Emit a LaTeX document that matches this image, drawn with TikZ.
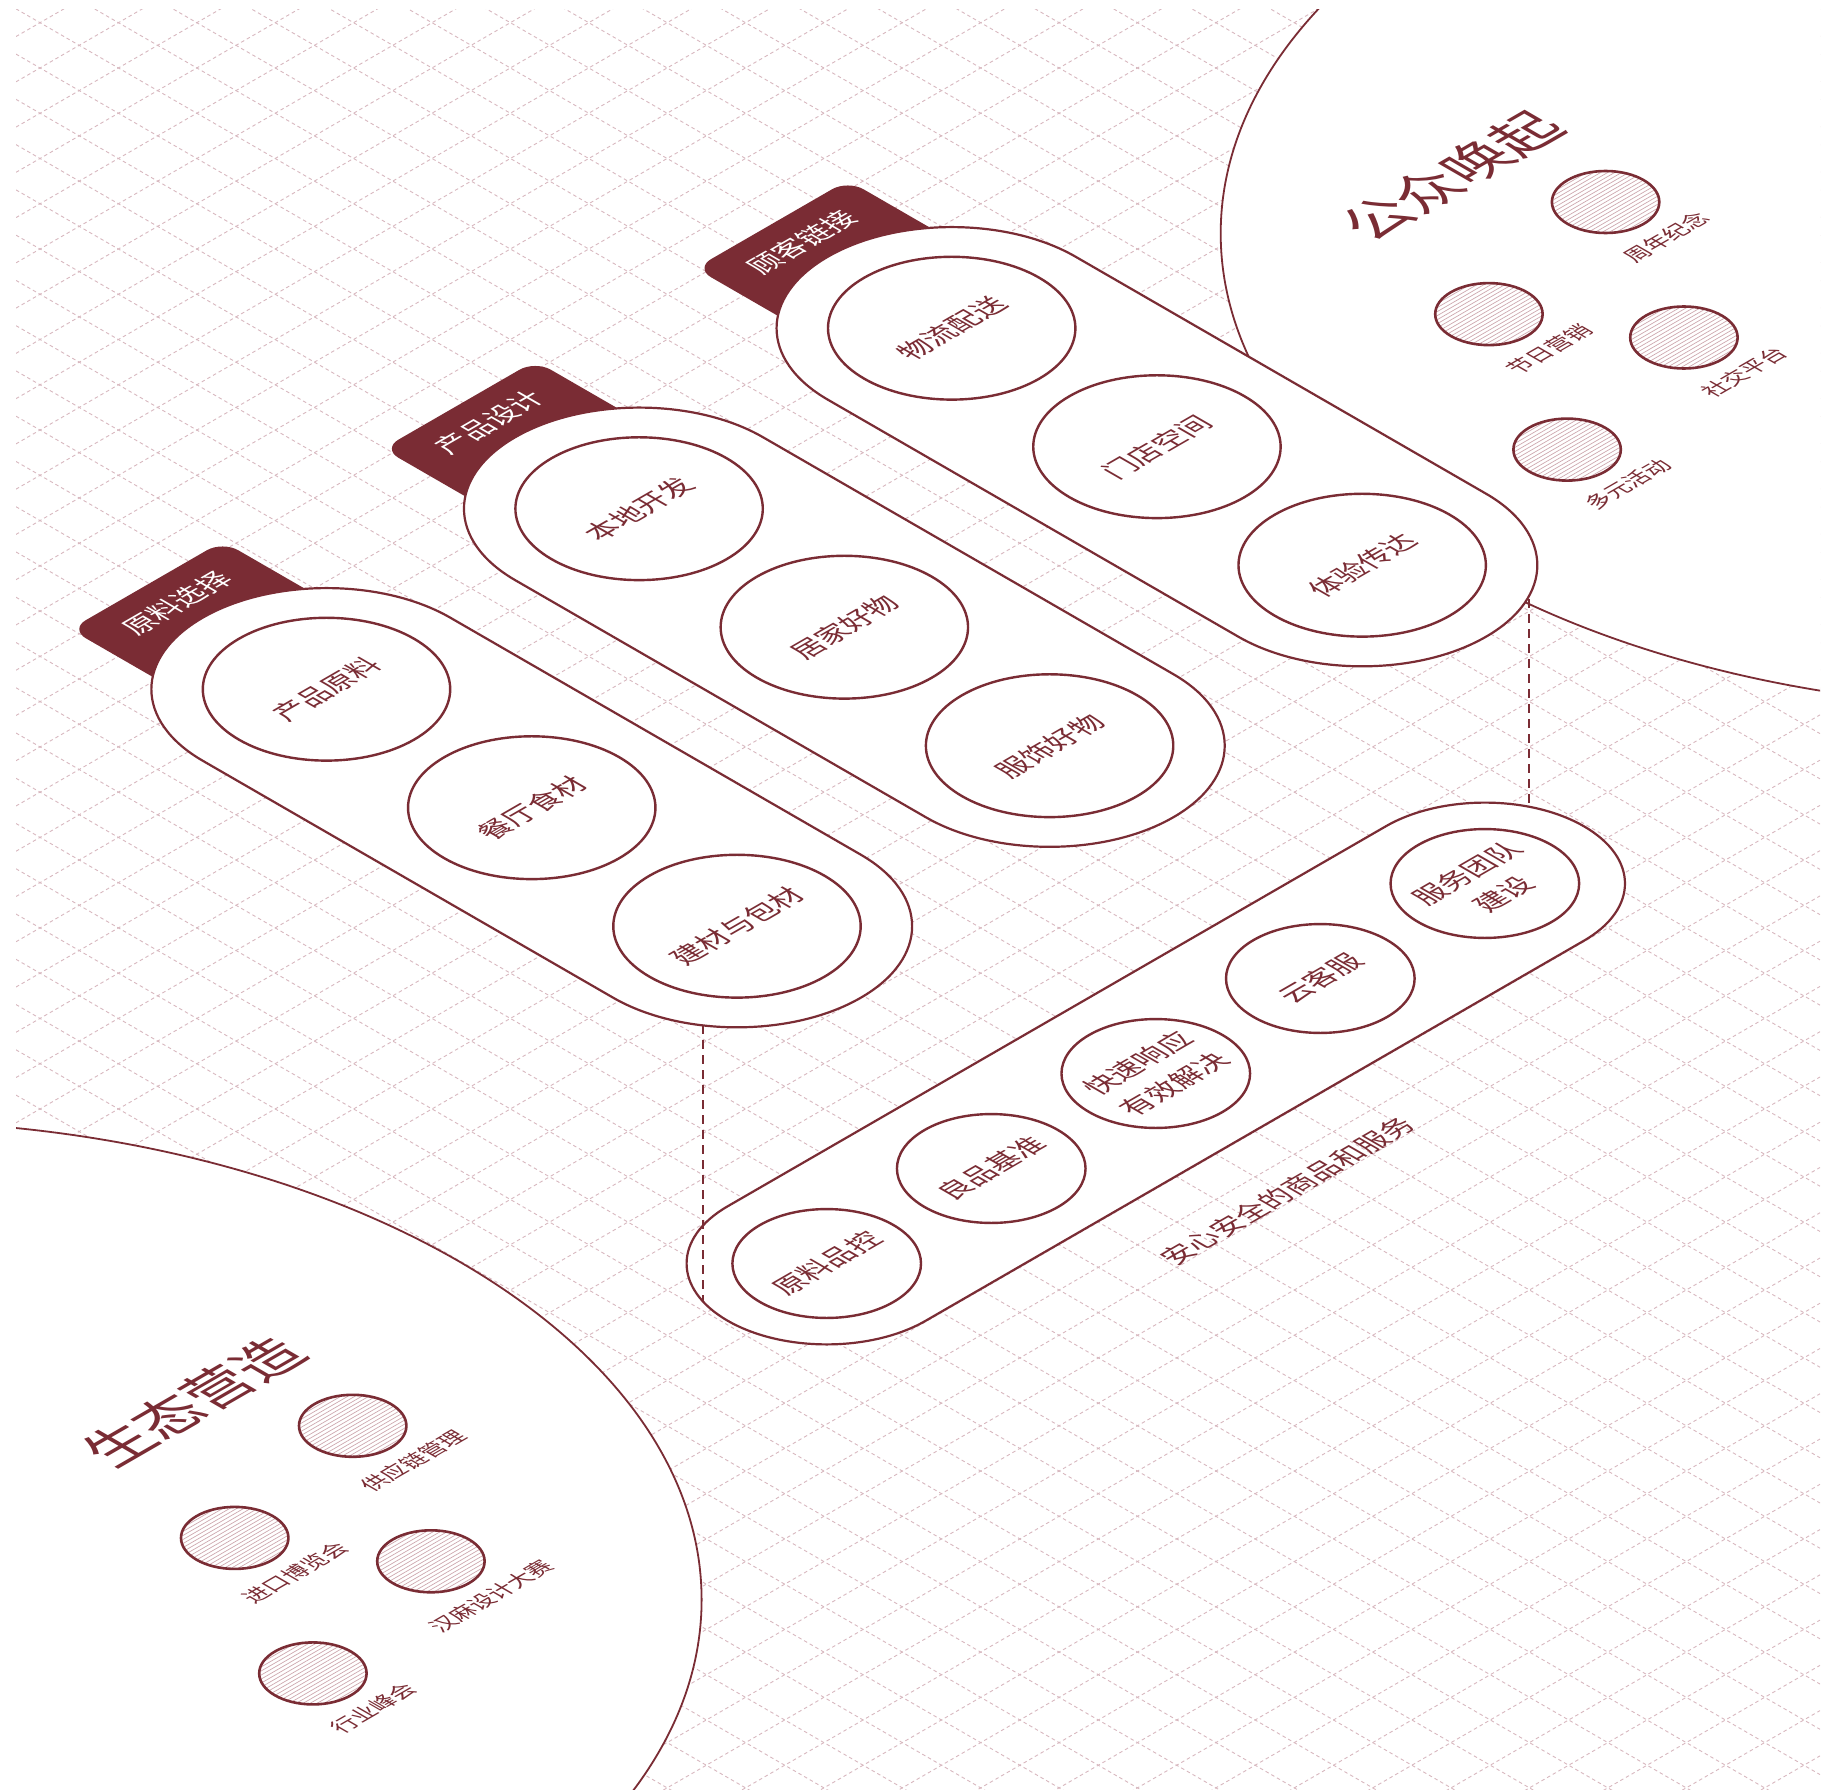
\documentclass[tikz,border=0pt]{standalone}
\usepackage{fontspec}
\newfontfamily\cjk{Noto Sans CJK SC}
\definecolor{mred}{RGB}{122,44,52}
\definecolor{gridc}{RGB}{216,184,191}
\definecolor{hatchc}{RGB}{206,168,175}
\newcommand{\mypill}[7]{%
\begin{scope}[shift={(#1,#2)}, iso]
\fill[mred, rounded corners=18pt] (-88,0) rectangle (88,208);
\draw[pillout] (143,0) arc[start angle=0,end angle=180,radius=143] -- (-143,-474) arc[start angle=180,end angle=360,radius=143] -- cycle;
\draw[innerc] (0,0) circle[radius=101];
\draw[innerc] (0,-237) circle[radius=101];
\draw[innerc] (0,-474) circle[radius=101];
\node[tagtext] (#7t) at (0,173) {#3};
\node[ptext] (#7a) at (0,0) {#4};
\node[ptext] (#7b) at (0,-237) {#5};
\node[ptext] (#7c) at (0,-474) {#6};
\end{scope}}
\newcommand{\hcirc}[4]{%
\begin{scope}
\clip (#1,#2) ellipse[x radius=53.7, y radius=31];
\foreach \k in {-18,...,18}{\draw[hatchl] ({#1+1.75*\k-60.6},{#2+3.031*\k+35}) -- ++(121.2,-70);}
\end{scope}
\draw[hatchout] (#1,#2) ellipse[x radius=53.7, y radius=31];
\begin{scope}[shift={(#1,#2)}, iso]
\node[stext] (#4) at (0,-70) {#3};
\end{scope}}
\begin{document}
\begin{tikzpicture}[x=1pt,y=-1pt,
  iso/.style={cm={0.866,0.5,-0.866,0.5,(0,0)},x=1pt,y=1pt},
  gridline/.style={gridc, line width=0.9pt, dash pattern=on 3.5pt off 3pt},
  bigout/.style={draw=mred, fill=white, line width=1.8pt},
  pillout/.style={draw=mred, fill=white, line width=2.2pt},
  innerc/.style={draw=mred, line width=2.4pt},
  hatchl/.style={hatchc, line width=0.7pt},
  hatchout/.style={draw=mred, line width=2.6pt},
  ptext/.style={text=mred, font=\cjk\fontsize{28}{42}\selectfont, transform shape, align=center, inner sep=0pt},
  tagtext/.style={text=white, font=\cjk\fontsize{28}{34}\selectfont, transform shape, inner sep=0pt},
  stext/.style={text=mred, font=\cjk\fontsize{22}{26}\selectfont, transform shape, inner sep=0pt},
  ttext/.style={text=mred, font=\cjk\fontsize{57}{64}\selectfont, transform shape, inner sep=0pt},
  conn/.style={draw=mred, line width=2.2pt, dash pattern=on 9pt off 6pt}
]
\useasboundingbox (0,0) rectangle (1831,1790);
\fill[white] (0,0) rectangle (1831,1790);
% grid and big areas
\begin{scope}
\clip (16,10) rectangle (1820,1790);
\foreach \k in {-23,...,40} \draw[gridline] (16,{22.7+45.26*\k-13.86}) -- (1820,{22.7+45.26*\k+1027.7});
\foreach \k in {0,...,62} \draw[gridline] (16,{22.7+45.26*\k+13.86}) -- (1820,{22.7+45.26*\k-1027.7});
\draw[bigout] (2044.7,233.5) ellipse [x radius=824, y radius=475];
\draw[bigout] (-128.4,1599.8) ellipse [x radius=830, y radius=479];
\end{scope}
% titles
\begin{scope}[shift={(1451.5,176)}, iso]
\node[ttext] (title1) at (0,0) {公众唤起};
\end{scope}
\begin{scope}[shift={(193,1402)}, iso]
\node[ttext] (title2) at (0,0) {生态营造};
\end{scope}
% hatched circles
\hcirc{1605.6}{202.0}{周年纪念}{h1}
\hcirc{1488.9}{314.1}{节日营销}{h2}
\hcirc{1683.9}{337.5}{社交平台}{h3}
\hcirc{1567.1}{449.6}{多元活动}{h4}
\hcirc{352.7}{1425.8}{供应链管理}{h5}
\hcirc{234.7}{1537.9}{进口博览会}{h6}
\hcirc{430.9}{1561.3}{汉麻设计大赛}{h7}
\hcirc{312.9}{1673.4}{行业峰会}{h8}
% pills
\mypill{326.5}{689.2}{原料选择}{产品原料}{餐厅食材}{建材与包材}{pa}
\mypill{639.1}{508.7}{产品设计}{本地开发}{居家好物}{服饰好物}{pb}
\mypill{951.7}{328.2}{顾客链接}{物流配送}{门店空间}{体验传达}{pc}
% service pill
\begin{scope}[shift={(826.7,1263.5)}, iso]
\draw[pillout] (0,114.4) arc[start angle=90,end angle=270,radius=114.4] -- (760,-114.4) arc[start angle=-90,end angle=90,radius=114.4] -- cycle;
\foreach \i in {0,1,2,3,4} \draw[innerc] ({190*\i},0) circle[radius=77];
\node[ptext] (s1) at (0,0) {原料品控};
\node[ptext] (s2) at (190,0) {良品基准};
\node[ptext] (s3) at (380,0) {快速响应\\有效解决};
\node[ptext] (s4) at (570,0) {云客服};
\node[ptext] (s5) at (760,0) {服务团队\\建设};
\end{scope}
\begin{scope}[shift={(1287.4,1191)}, iso]
\node[ptext] (slogan) at (0,0) {安心安全的商品和服务};
\end{scope}
% connectors
\coordinate (d1a) at (703,1025.4);
\coordinate (d1b) at (703,1301.5);
\coordinate (d2a) at (1529,599);
\coordinate (d2b) at (1529,806.7);
\draw[conn] (d1a) -- (d1b);
\draw[conn] (d2a) -- (d2b);
\end{tikzpicture}
\end{document}
